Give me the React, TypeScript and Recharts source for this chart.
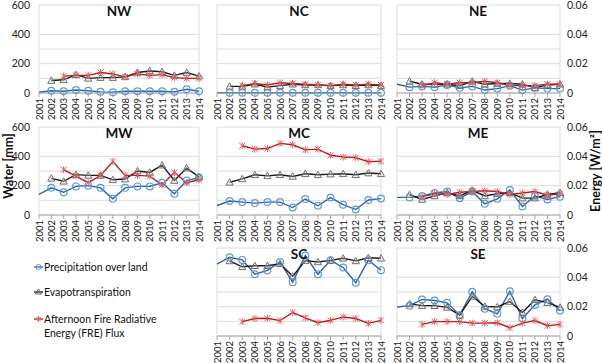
import React from 'react';
import { LineChart, Line, XAxis, YAxis, CartesianGrid } from 'recharts';

const years = ['2001', '2002', '2003', '2004', '2005', '2006', '2007', '2008', '2009', '2010', '2011', '2012', '2013', '2014'];

// water in mm, FRE flux in W/m2 (right axis)
const precipNW = [5, 15, 12, 20, 15, 8, 5, 12, 12, 12, 12, 8, 25, 12];
const etNW = [null, 85, 90, 125, 100, 105, 105, 110, 140, 150, 145, 120, 140, 115];
const freNW = [null, null, 0.0115, 0.012, 0.012, 0.014, 0.013, 0.011, 0.013, 0.012, 0.0125, 0.0105, 0.01, 0.01];

const precipNC = [2, 2, 2, 2, 2, 2, 2, 2, 2, 2, 2, 2, 2, 2];
const etNC = [null, 45, 45, 60, 40, 50, 60, 55, 55, 50, 55, 50, 55, 50];
const freNC = [null, null, 0.005, 0.0065, 0.0055, 0.007, 0.0065, 0.006, 0.0055, 0.005, 0.006, 0.0055, 0.006, 0.0055];

const precipNE = [60, 40, 45, 40, 55, 35, 45, 20, 30, 50, 20, 35, 30, 30];
const etNE = [null, 80, 60, 60, 60, 50, 80, 60, 65, 65, 60, 35, 55, 60];
const freNE = [null, null, 0.005, 0.007, 0.006, 0.007, 0.007, 0.008, 0.007, 0.005, 0.005, 0.005, 0.006, 0.006];

const precipMW = [140, 185, 155, 195, 200, 185, 110, 185, 195, 195, 220, 145, 235, 255];
const etMW = [null, 250, 230, 275, 270, 270, 240, 245, 300, 290, 340, 235, 320, 260];
const freMW = [null, null, 0.031, 0.0265, 0.022, 0.027, 0.0365, 0.027, 0.027, 0.0265, 0.0205, 0.029, 0.022, 0.024];

const precipMC = [65, 95, 88, 81, 88, 88, 51, 109, 63, 119, 70, 37, 102, 112];
const etMC = [null, 223, 246, 274, 267, 274, 263, 281, 274, 279, 281, 274, 286, 281];
const freMC = [null, null, 0.0472, 0.0449, 0.0453, 0.0488, 0.0479, 0.0444, 0.0449, 0.0407, 0.0395, 0.0391, 0.0363, 0.0367];

const precipME = [120, 120, 130, 150, 160, 115, 160, 76, 110, 170, 58, 130, 106, 125];
const etME = [null, 138, 106, 130, 152, 130, 168, 130, 145, 152, 115, 115, 140, 152];
const freME = [null, null, 0.0125, 0.0145, 0.014, 0.0155, 0.016, 0.0165, 0.016, 0.014, 0.015, 0.016, 0.0135, 0.0145];

const precipSC = [490, 537, 519, 421, 447, 505, 367, 549, 421, 516, 467, 363, 516, 449];
const etSC = [null, 512, 472, 479, 479, 493, 407, 514, 505, 516, 530, 512, 533, 530];
const freSC = [null, null, 0.0098, 0.0119, 0.0121, 0.0105, 0.016, 0.0123, 0.0091, 0.0107, 0.013, 0.0119, 0.0086, 0.0107];

const precipSE = [198, 207, 249, 242, 226, 142, 302, 186, 151, 305, 119, 212, 251, 174];
const etSE = [null, 219, 207, 207, 195, 142, 270, 202, 198, 235, 160, 247, 228, 195];
const freSE = [null, null, 0.0079, 0.0098, 0.0098, 0.0098, 0.0088, 0.0088, 0.009, 0.0056, 0.0088, 0.0105, 0.007, 0.0079];

const waterTicks = [0, 100, 200, 300, 400, 500, 600];
const energyTicks = [0, 0.01, 0.02, 0.03, 0.04, 0.05, 0.06];

const FONT = 'Lato, "Open Sans", sans-serif';
const BLUE = '#2f62a6';
const BLUE_MK = '#5b9bd5';
const RED = '#b0201e';
const RED_MK = '#e2615e';

const colX = [0, 207, 387];
const colW = [208, 184, 215];
const plotTops = [5, 127, 248];

function PrecipDot(props: any) {
  const { cx, cy, index, value } = props;
  if (index === 0 || value == null || cy == null) return <g key={`p${index}`} />;
  return <circle key={`p${index}`} cx={cx} cy={cy} r={3.4} fill="none" stroke={BLUE_MK} strokeWidth={1.2} />;
}

function EtDot(props: any) {
  const { cx, cy, index, value } = props;
  if (value == null || cy == null) return <g key={`e${index}`} />;
  return (
    <path key={`e${index}`} d={`M${cx},${cy - 3.6}L${cx + 3.6},${cy + 2.8}L${cx - 3.6},${cy + 2.8}Z`}
      fill="#d0d0d0" fillOpacity={0.3} stroke="#707070" strokeWidth={1} />
  );
}

function FreDot(props: any) {
  const { cx, cy, index, value } = props;
  if (value == null || cy == null) return <g key={`f${index}`} />;
  return (
    <path key={`f${index}`} d={`M${cx - 3},${cy - 3}L${cx + 3},${cy + 3}M${cx - 3},${cy + 3}L${cx + 3},${cy - 3}M${cx},${cy - 3.5}L${cx},${cy + 3.5}`}
      stroke={RED_MK} strokeWidth={1} fill="none" />
  );
}

function YearTick(props: any) {
  const { x, y, payload } = props;
  return (
    <text x={x} y={y} transform={`rotate(-90 ${x} ${y})`} textAnchor="end" dominantBaseline="central"
      fontSize={9.5} fontFamily={FONT} fill="#222">
      {payload.value}
    </text>
  );
}

type PanelProps = {
  col: number;
  row: number;
  precip: (number | null)[];
  et: (number | null)[];
  fre: (number | null)[];
};

function Panel({ col, row, precip, et, fre }: PanelProps) {
  const data = years.map((year, i) => ({ year, precip: precip[i], et: et[i], fre: fre[i] }));
  const margin = col === 0
    ? { top: 6, right: 9, left: 0, bottom: 0 }
    : col === 1
      ? { top: 6, right: 10, left: 10, bottom: 0 }
      : { top: 6, right: 0, left: 10, bottom: 0 };
  return (
    <div style={{ position: 'absolute', left: colX[col], top: plotTops[row] - 6 }}>
      <LineChart width={colW[col]} height={126} data={data} margin={margin}>
        <CartesianGrid yAxisId="w" stroke="#dcdcdc" strokeWidth={1}
          verticalCoordinatesGenerator={({ offset }: any) => [offset.left, offset.left + offset.width]} />
        <XAxis dataKey="year" height={32} interval={0} tick={<YearTick />}
          stroke="#a6a6a6" tickSize={4} tickMargin={1} />
        <YAxis yAxisId="w" domain={[0, 600]} ticks={waterTicks} hide={col !== 0} width={39}
          axisLine={false} tickLine={false} tickSize={0} tickMargin={9}
          tick={{ fontSize: 10.5, fontFamily: FONT, fill: '#222' }}
          tickFormatter={(v: number) => (v % 200 === 0 ? String(v) : '')} />
        <YAxis yAxisId="e" orientation="right" domain={[0, 0.06]} ticks={energyTicks} hide={col !== 2} width={42}
          axisLine={false} tickLine={false} tickSize={0} tickMargin={7}
          tick={{ fontSize: 10.5, fontFamily: FONT, fill: '#222' }}
          tickFormatter={(v: number) => (Math.round(v * 1000) % 20 === 0 ? (v === 0 ? '0' : v.toFixed(2)) : '')} />
        <Line yAxisId="w" dataKey="precip" stroke={BLUE} strokeWidth={1.4} dot={<PrecipDot />} isAnimationActive={false} />
        <Line yAxisId="w" dataKey="et" stroke="#1a1a1a" strokeWidth={1.4} dot={<EtDot />} isAnimationActive={false} />
        <Line yAxisId="e" dataKey="fre" stroke={RED} strokeWidth={1.4} dot={<FreDot />} isAnimationActive={false} />
      </LineChart>
    </div>
  );
}

const panels = [
  { title: 'NW', col: 0, row: 0, precip: precipNW, et: etNW, fre: freNW },
  { title: 'NC', col: 1, row: 0, precip: precipNC, et: etNC, fre: freNC },
  { title: 'NE', col: 2, row: 0, precip: precipNE, et: etNE, fre: freNE },
  { title: 'MW', col: 0, row: 1, precip: precipMW, et: etMW, fre: freMW },
  { title: 'MC', col: 1, row: 1, precip: precipMC, et: etMC, fre: freMC },
  { title: 'ME', col: 2, row: 1, precip: precipME, et: etME, fre: freME },
  { title: 'SC', col: 1, row: 2, precip: precipSC, et: etSC, fre: freSC },
  { title: 'SE', col: 2, row: 2, precip: precipSE, et: etSE, fre: freSE },
];

// plot-area centres used for the panel titles
const plotCentres = [119, 299, 478];

export default function App() {
  return (
    <div style={{ position: 'absolute', left: 0, top: 0, width: 602, height: 363, overflow: 'hidden', background: '#fff', fontFamily: FONT }}>
      {panels.map((p) => (
        <Panel key={p.title} col={p.col} row={p.row} precip={p.precip} et={p.et} fre={p.fre} />
      ))}
      <svg width={602} height={363} style={{ position: 'absolute', left: 0, top: 0, pointerEvents: 'none' }}>
        {panels.map((p) => (
          <text key={p.title} x={plotCentres[p.col]} y={plotTops[p.row] + 11} textAnchor="middle"
            fontSize={13.5} fontWeight="bold" fontFamily={FONT} fill="#111">{p.title}</text>
        ))}
        <text x={8} y={166} transform="rotate(-90 8 166)" textAnchor="middle" dominantBaseline="central"
          fontSize={12.5} fontWeight="bold" fontFamily={FONT} fill="#111">Water [mm]</text>
        <text x={595} y={171} transform="rotate(-90 595 171)" textAnchor="middle" dominantBaseline="central"
          fontSize={12.5} fontWeight="bold" fontFamily={FONT} fill="#111">Energy [W/m²]</text>
        <g fontSize={10.5} fontFamily={FONT} fill="#111">
          <line x1={34} x2={43} y1={267} y2={267} stroke={BLUE} strokeWidth={1.3} />
          <circle cx={38.5} cy={267} r={2.6} fill="none" stroke={BLUE_MK} strokeWidth={1} />
          <text x={44} y={267} dominantBaseline="central">Precipitation over land</text>
          <line x1={34} x2={43} y1={292} y2={292} stroke="#1a1a1a" strokeWidth={1.3} />
          <path d="M38.5,289L41.5,294L35.5,294Z" fill="none" stroke="#666" strokeWidth={1} />
          <text x={44} y={292} dominantBaseline="central">Evapotranspiration</text>
          <line x1={34} x2={43} y1={319} y2={319} stroke={RED} strokeWidth={1.3} />
          <path d="M36.5,317L40.5,321M36.5,321L40.5,317M38.5,316L38.5,322" stroke={RED_MK} strokeWidth={1} />
          <text x={44} y={319} dominantBaseline="central">Afternoon Fire Radiative</text>
          <text x={44} y={333} dominantBaseline="central">Energy (FRE) Flux</text>
        </g>
      </svg>
    </div>
  );
}
